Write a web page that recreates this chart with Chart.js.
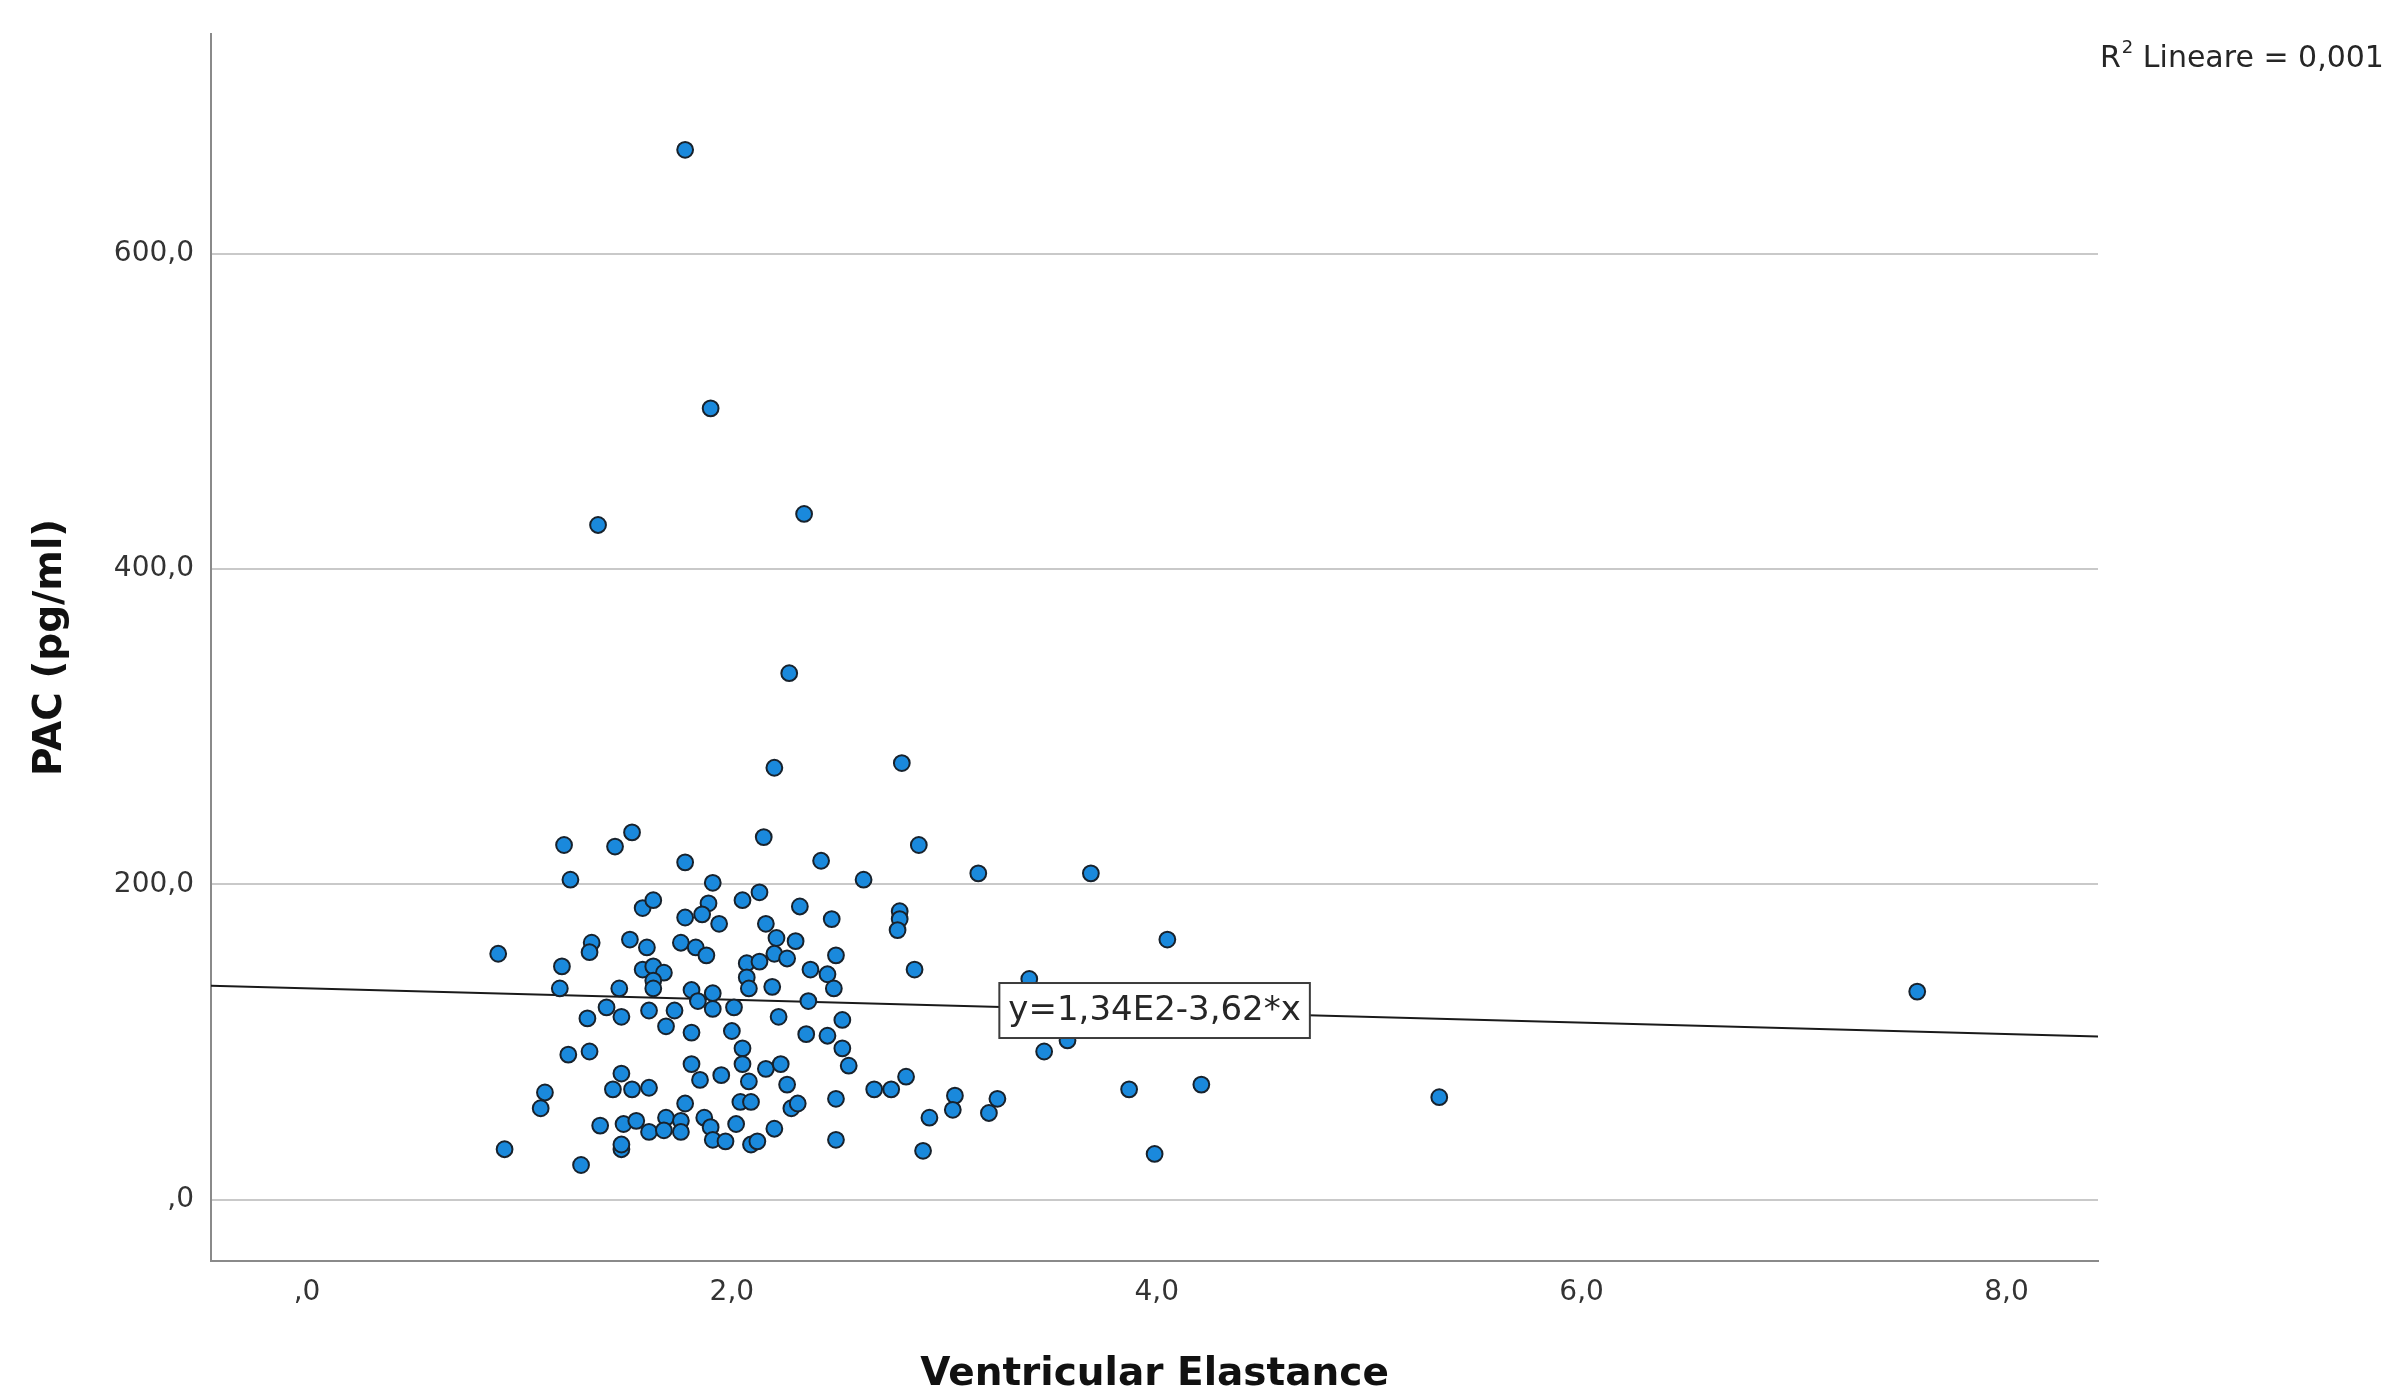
<!DOCTYPE html>
<html>
<head>
<meta charset="utf-8">
<script src="https://cdn.jsdelivr.net/npm/chart.js@4.4.1/dist/chart.umd.min.js"></script>
<style>
html,body{margin:0;padding:0;background:#ffffff;}
#wrap{width:2395px;height:1396px;position:relative;}
</style>
</head>
<body>
<div id="wrap"><canvas id="c" width="2395" height="1396"></canvas></div>
<script>
// ---- data ----
const elastance = [
  1.21,1.45,1.53,2.15,2.88,1.78,2.42,1.24,2.62,1.91,
  1.58,1.63,1.89,1.78,1.86,1.94,2.05,2.13,2.32,2.47,
  2.79,2.79,2.78,0.90,1.34,1.33,1.52,1.60,1.76,1.83,
  1.88,2.16,2.21,2.30,2.20,2.26,2.49,2.37,2.45,2.48,
  2.86,1.20,1.19,1.47,1.58,1.63,1.68,1.63,1.63,2.07,
  2.13,2.07,2.08,2.19,1.81,1.91,1.41,1.48,1.32,1.61,
  1.73,1.84,1.91,2.01,2.36,2.22,1.69,1.81,2.00,2.52,
  2.35,2.45,2.52,2.55,2.05,2.05,1.23,1.33,1.81,1.85,
  1.95,2.16,2.23,2.08,2.26,1.48,1.44,1.53,1.61,1.12,
  1.10,2.04,2.09,2.28,2.31,2.49,2.67,2.75,2.82,3.05,
  3.04,2.93,1.38,1.49,1.55,1.61,1.69,1.68,1.76,1.76,
  1.78,1.87,1.90,1.91,1.97,2.02,2.09,2.12,2.20,2.49,
  2.90,0.93,1.29,1.48,1.48,
  3.16,3.69,3.40,4.05,3.58,3.47,3.25,3.21,3.87,4.21,3.99,
  5.33,7.58,1.78,1.90,1.37,2.34,2.27,2.20,2.80
];
const pac = [
  225,224,233,230,225,214,215,203,203,201,
  185,190,188,179,181,175,190,195,186,178,
  183,178,171,156,163,157,165,160,163,160,
  155,175,166,164,156,153,155,146,143,134,
  146,148,134,134,146,148,144,139,134,150,
  151,141,134,135,133,131,122,116,115,120,
  120,126,121,122,126,116,110,106,107,114,
  105,104,96,85,96,86,92,94,86,76,
  79,83,86,75,73,80,70,70,71,68,
  58,62,62,58,61,64,70,70,78,66,
  57,52,47,48,50,43,52,44,50,43,
  61,52,46,38,37,48,35,37,45,38,
  31,32,22,32,35,
  207,207,140,165,101,94,64,55,70,73,29,
  65,132,666,502,428,435,334,274,277
];
const xTicks = [0, 2, 4, 6, 8];
const xTickLabels = [',0', '2,0', '4,0', '6,0', '8,0'];
const yTicks = [0, 200, 400, 600];
const yTickLabels = [',0', '200,0', '400,0', '600,0'];
const fitIntercept = 134;
const fitSlope = -3.62;
const fitLabel = 'y=1,34E2-3,62*x';
const r2Sup = '2';
const r2Text = ' Lineare = 0,001';
const xTitle = 'Ventricular Elastance';
const yTitle = 'PAC (pg/ml)';

// axis extents and annotation anchor (data units)
const xMin = -0.452, xMax = 8.431;
const yMin = -38.9, yMax = 739.6;
const fitLabelX = 3.99, fitLabelY = 120;

const annotations = {
  id: 'annotations',
  afterDatasetsDraw(chart) {
    const {ctx, scales: {x, y}} = chart;
    const cx = x.getPixelForValue(fitLabelX);
    const cy = y.getPixelForValue(fitLabelY);
    ctx.save();
    ctx.font = '34px "DejaVu Sans"';
    const w = ctx.measureText(fitLabel).width;
    const bw = w + 18, bh = 55;
    ctx.fillStyle = '#ffffff';
    ctx.fillRect(cx - bw / 2, cy - bh / 2, bw, bh);
    ctx.lineWidth = 2;
    ctx.strokeStyle = '#3c3c3c';
    ctx.strokeRect(cx - bw / 2, cy - bh / 2, bw, bh);
    ctx.fillStyle = '#262626';
    ctx.textAlign = 'center';
    ctx.textBaseline = 'middle';
    ctx.fillText(fitLabel, cx, cy + 1);
    ctx.restore();
  },
  afterDraw(chart) {
    const {ctx, chartArea} = chart;
    ctx.save();
    ctx.fillStyle = '#262626';
    ctx.textBaseline = 'alphabetic';
    ctx.textAlign = 'left';
    let px = chartArea.right + 2;
    const base = 66.5;
    ctx.font = '30px "DejaVu Sans"';
    ctx.fillText('R', px, base);
    px += ctx.measureText('R').width + 1;
    ctx.font = '18px "DejaVu Sans"';
    ctx.fillText(r2Sup, px, base - 14);
    px += ctx.measureText(r2Sup).width;
    ctx.font = '30px "DejaVu Sans"';
    ctx.fillText(r2Text, px, base);
    ctx.restore();
  }
};

new Chart(document.getElementById('c'), {
  type: 'scatter',
  data: {
    datasets: [
      {
        type: 'scatter',
        data: elastance.map((v, i) => ({x: v, y: pac[i]})),
        pointRadius: 7.9,
        pointHoverRadius: 7.9,
        pointBackgroundColor: '#1a89dc',
        pointBorderColor: '#18222c',
        pointBorderWidth: 2,
        order: 0
      },
      {
        type: 'line',
        data: [
          {x: xMin, y: fitIntercept + fitSlope * xMin},
          {x: xMax, y: fitIntercept + fitSlope * xMax}
        ],
        borderColor: '#1a1a1a',
        borderWidth: 2,
        pointRadius: 0,
        fill: false,
        order: 1
      }
    ]
  },
  options: {
    responsive: false,
    animation: false,
    devicePixelRatio: 1,
    events: [],
    layout: {padding: {left: 0, right: 297, top: 31, bottom: 0}},
    plugins: {legend: {display: false}, tooltip: {enabled: false}},
    scales: {
      x: {
        type: 'linear',
        min: xMin, max: xMax,
        afterBuildTicks: s => { s.ticks = xTicks.map(v => ({value: v})); },
        afterFit: s => { s.height = 135; },
        ticks: {
          callback: v => { const i = xTicks.indexOf(v); return i >= 0 ? xTickLabels[i] : ''; },
          font: {family: 'DejaVu Sans', size: 28},
          color: '#333333',
          padding: 15,
          maxRotation: 0,
          autoSkip: false
        },
        grid: {display: false, drawTicks: false},
        border: {display: true, color: '#8a8a8a', width: 2},
        title: {
          display: true, text: xTitle, color: '#111111',
          font: {family: 'DejaVu Sans', size: 39, weight: 'bold', lineHeight: 1.1},
          padding: {top: 0, bottom: 0}
        }
      },
      y: {
        type: 'linear',
        min: yMin, max: yMax,
        afterBuildTicks: s => { s.ticks = yTicks.map(v => ({value: v})); },
        afterFit: s => { s.width = 211; },
        ticks: {
          callback: v => { const i = yTicks.indexOf(v); return i >= 0 ? yTickLabels[i] : ''; },
          font: {family: 'DejaVu Sans', size: 28},
          color: '#333333',
          padding: 17,
          autoSkip: false
        },
        grid: {display: true, drawTicks: false, color: '#c9c9c9', lineWidth: 2},
        border: {display: true, color: '#8a8a8a', width: 2},
        title: {
          display: true, text: yTitle, color: '#111111',
          font: {family: 'DejaVu Sans', size: 39, weight: 'bold', lineHeight: 1.1},
          padding: {top: 29, bottom: 0}
        }
      }
    }
  },
  plugins: [annotations]
});
</script>
</body>
</html>
